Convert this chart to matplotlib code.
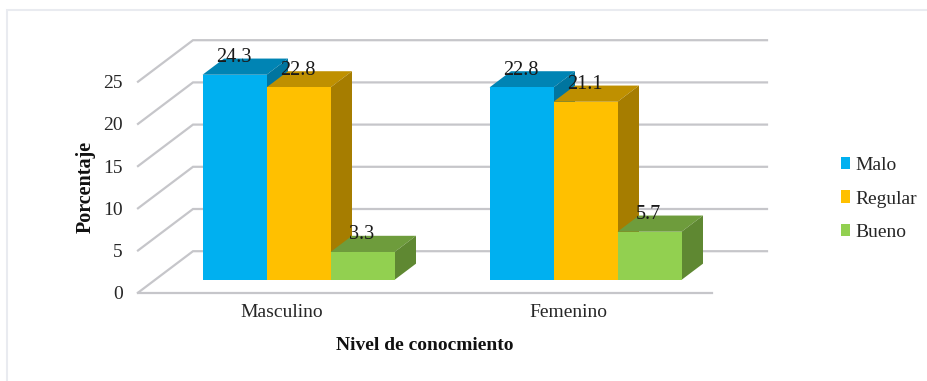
import matplotlib
matplotlib.use("Agg")
import matplotlib.pyplot as plt
from matplotlib.lines import Line2D
from matplotlib.patches import Patch, Polygon

plt.rcParams['font.family'] = ['Liberation Serif', 'DejaVu Serif']

# --------------------------
# Data
# --------------------------
categories = ["Masculino", "Femenino"]
series_names = ["Malo", "Regular", "Bueno"]
malo = [24.3, 22.8]
regular = [22.8, 21.1]
bueno = [3.3, 5.7]
y_ticks = [0, 5, 10, 15, 20, 25]

# --------------------------
# Style and 3D look
# --------------------------
W, H = 927, 381
FRONT = ["#00b0f0", "#ffc000", "#92d050"]
TOP = ["#0084b4", "#bf9000", "#6e9c3c"]
SIDE = ["#00759f", "#a67d00", "#5f8832"]
GRID = "#c6c6ca"
TEXT = "#262626"

DEPTH_X = 55 / 287    # depth shift, in category units
DEPTH_Y = 41.5 / 8.44  # depth shift, in value units
BAR_W = 64 / 287
BAR_START = 0.31
BAR_END = 0.70


def proj(x, v, d):
    return x + d * DEPTH_X, v + d * DEPTH_Y


def bar3d(ax, x0, v, color_i):
    x1 = x0 + BAR_W
    top = [proj(x0, v, BAR_START), proj(x1, v, BAR_START), proj(x1, v, BAR_END), proj(x0, v, BAR_END)]
    side = [proj(x1, 0, BAR_START), proj(x1, v, BAR_START), proj(x1, v, BAR_END), proj(x1, 0, BAR_END)]
    front = [proj(x0, 0, BAR_START), proj(x1, 0, BAR_START), proj(x1, v, BAR_START), proj(x0, v, BAR_START)]
    for pts, col in [(top, TOP[color_i]), (side, SIDE[color_i]), (front, FRONT[color_i])]:
        ax.add_patch(Polygon(pts, closed=True, facecolor=col, edgecolor="none", clip_on=False, zorder=3))


fig = plt.figure(figsize=(W / 100, H / 100), dpi=100)
fig.patch.set_facecolor("white")

# only the top and left edge of the pasted frame show
fig.add_artist(Line2D([7 / W, 7 / W, 1], [0, 1 - 10 / H, 1 - 10 / H], transform=fig.transFigure,
                      color="#e9ebf0", lw=1.5, zorder=-1, solid_joinstyle="miter"))

# axes = front plane of the floor, 138..712 px wide, 8.44 px per unit
ax = fig.add_axes([138 / W, 1 - 292.7 / H, 574 / W, 30 * 8.44 / H])
ax.set_xlim(0, 2)
ax.set_ylim(0, 30)
ax.patch.set_alpha(0)
for s in ax.spines.values():
    s.set_visible(False)

# --------------------------
# Walls and floor lines
# --------------------------
for t in y_ticks:
    xs, ys = zip(proj(0, t, 0), proj(0, t, 1), proj(2, t, 1))
    ax.plot(xs, ys, color=GRID, lw=1.6, clip_on=False, zorder=1, solid_joinstyle="miter")
ax.plot([0, 2], [0, 0], color=GRID, lw=1.6, clip_on=False, zorder=1)

# --------------------------
# Bars and value labels
# --------------------------
for i in range(len(categories)):
    # bars sit centred in the category band
    x_start = i + 0.5 - 1.5 * BAR_W
    for j, vals in enumerate([malo, regular, bueno]):
        x0 = x_start + j * BAR_W
        bar3d(ax, x0, vals[i], j)
        lx, ly = proj(x0 + BAR_W / 2, vals[i], BAR_START)
        ax.annotate(f"{vals[i]}", (lx, ly), xytext=(-0.5, 12.3), textcoords="offset points",
                    ha="center", va="center", fontsize=14.5, color="#1a1a1a", zorder=5,
                    annotation_clip=False)

# --------------------------
# Axes text
# --------------------------
ax.set_yticks(y_ticks)
ax.set_xticks([0.5, 1.5])
ax.set_xticklabels(categories)
ax.tick_params(axis="both", length=0, labelsize=14, labelcolor=TEXT)
ax.tick_params(axis="y", pad=11)
ax.tick_params(axis="x", pad=8)
fig.text(85.5 / W, 1 - 187 / H, "Porcentaje", rotation=90, ha="center", va="center",
         fontsize=14.5, fontweight="bold", color="#111111")
fig.text(425 / W, 1 - 346 / H, "Nivel de conocmiento", ha="center", va="center",
         fontsize=14, fontweight="bold", color="#111111")

# --------------------------
# Legend
# --------------------------
handles = [Patch(facecolor=c, edgecolor="none") for c in FRONT]
fig.legend(handles, series_names, loc="center left", bbox_to_anchor=(823.5 / W, 1 - 199 / H),
           frameon=False, fontsize=14, handlelength=0.46, handleheight=0.6,
           handletextpad=0.3, labelspacing=0.85, labelcolor=TEXT)

fig.savefig("out.png", dpi=100)
